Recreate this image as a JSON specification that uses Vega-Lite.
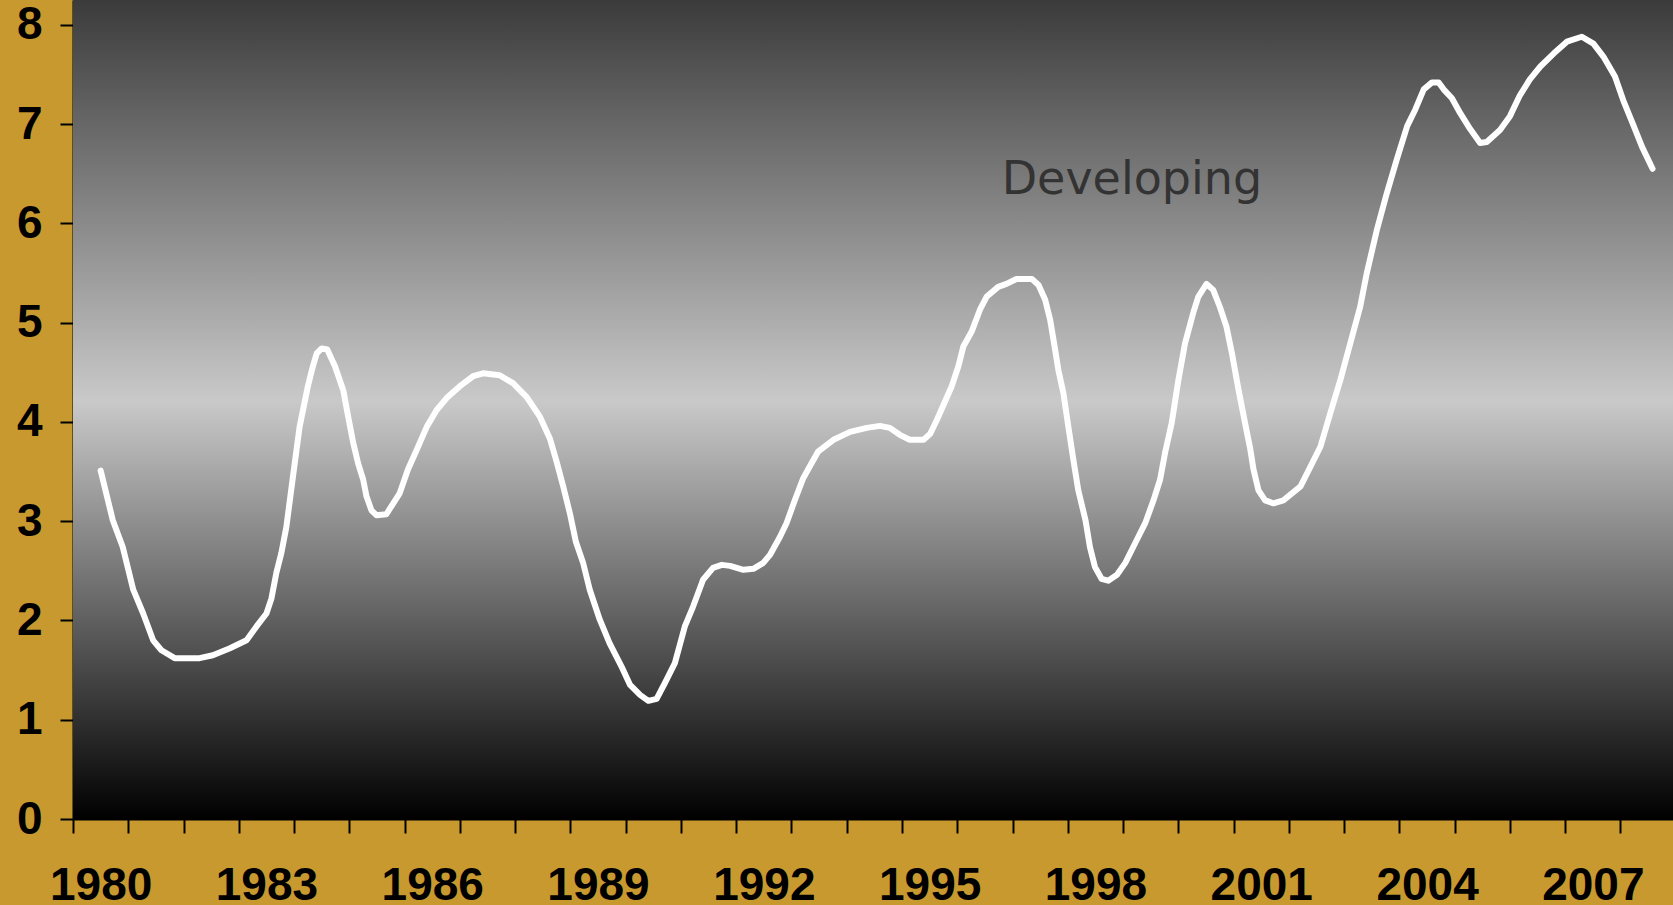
{
  "$schema": "https://vega.github.io/schema/vega-lite/v6.json",
  "width": 1600,
  "height": 819,
  "autosize": {"type": "none"},
  "padding": {"left": 73, "top": 0, "right": 0, "bottom": 86},
  "background": "#c8992f",
  "config": {"view": {"stroke": null}},
  "data": {"values": [
    {"year": 1980.50, "value": 3.51}, {"year": 1980.72, "value": 3.01}, {"year": 1980.90, "value": 2.74},
    {"year": 1981.09, "value": 2.31}, {"year": 1981.27, "value": 2.07}, {"year": 1981.45, "value": 1.80},
    {"year": 1981.60, "value": 1.70}, {"year": 1981.84, "value": 1.62}, {"year": 1982.29, "value": 1.62},
    {"year": 1982.53, "value": 1.65}, {"year": 1982.84, "value": 1.72}, {"year": 1983.14, "value": 1.80},
    {"year": 1983.32, "value": 1.94}, {"year": 1983.50, "value": 2.07}, {"year": 1983.59, "value": 2.22},
    {"year": 1983.68, "value": 2.48}, {"year": 1983.77, "value": 2.68}, {"year": 1983.86, "value": 2.94},
    {"year": 1983.98, "value": 3.45}, {"year": 1984.10, "value": 3.95}, {"year": 1984.25, "value": 4.36},
    {"year": 1984.34, "value": 4.56}, {"year": 1984.41, "value": 4.69}, {"year": 1984.50, "value": 4.74},
    {"year": 1984.60, "value": 4.73}, {"year": 1984.74, "value": 4.56}, {"year": 1984.89, "value": 4.32},
    {"year": 1984.98, "value": 4.05}, {"year": 1985.07, "value": 3.79}, {"year": 1985.16, "value": 3.58},
    {"year": 1985.25, "value": 3.42}, {"year": 1985.31, "value": 3.25}, {"year": 1985.40, "value": 3.11},
    {"year": 1985.49, "value": 3.06}, {"year": 1985.67, "value": 3.07}, {"year": 1985.76, "value": 3.15},
    {"year": 1985.91, "value": 3.28}, {"year": 1986.06, "value": 3.52}, {"year": 1986.22, "value": 3.72},
    {"year": 1986.40, "value": 3.95}, {"year": 1986.58, "value": 4.12}, {"year": 1986.76, "value": 4.24},
    {"year": 1987.00, "value": 4.36}, {"year": 1987.24, "value": 4.46}, {"year": 1987.42, "value": 4.49},
    {"year": 1987.72, "value": 4.47}, {"year": 1987.96, "value": 4.39}, {"year": 1988.21, "value": 4.25},
    {"year": 1988.45, "value": 4.05}, {"year": 1988.63, "value": 3.83}, {"year": 1988.75, "value": 3.60},
    {"year": 1988.87, "value": 3.35}, {"year": 1988.99, "value": 3.08}, {"year": 1989.10, "value": 2.79},
    {"year": 1989.23, "value": 2.58}, {"year": 1989.35, "value": 2.31}, {"year": 1989.53, "value": 2.01},
    {"year": 1989.71, "value": 1.77}, {"year": 1989.93, "value": 1.53}, {"year": 1990.08, "value": 1.35},
    {"year": 1990.26, "value": 1.25}, {"year": 1990.41, "value": 1.19}, {"year": 1990.56, "value": 1.21},
    {"year": 1990.71, "value": 1.37}, {"year": 1990.89, "value": 1.57}, {"year": 1991.07, "value": 1.94},
    {"year": 1991.22, "value": 2.14}, {"year": 1991.40, "value": 2.41}, {"year": 1991.58, "value": 2.53},
    {"year": 1991.74, "value": 2.56}, {"year": 1991.89, "value": 2.55}, {"year": 1992.13, "value": 2.51},
    {"year": 1992.31, "value": 2.52}, {"year": 1992.49, "value": 2.58}, {"year": 1992.61, "value": 2.66},
    {"year": 1992.79, "value": 2.84}, {"year": 1992.91, "value": 2.98}, {"year": 1993.06, "value": 3.21},
    {"year": 1993.21, "value": 3.43}, {"year": 1993.33, "value": 3.55}, {"year": 1993.48, "value": 3.70},
    {"year": 1993.76, "value": 3.82}, {"year": 1994.06, "value": 3.90}, {"year": 1994.36, "value": 3.94},
    {"year": 1994.60, "value": 3.96}, {"year": 1994.78, "value": 3.94}, {"year": 1994.96, "value": 3.87},
    {"year": 1995.14, "value": 3.82}, {"year": 1995.39, "value": 3.82}, {"year": 1995.51, "value": 3.88},
    {"year": 1995.63, "value": 4.02}, {"year": 1995.75, "value": 4.17}, {"year": 1995.90, "value": 4.36},
    {"year": 1996.02, "value": 4.56}, {"year": 1996.11, "value": 4.76}, {"year": 1996.26, "value": 4.91},
    {"year": 1996.41, "value": 5.13}, {"year": 1996.53, "value": 5.26}, {"year": 1996.74, "value": 5.36},
    {"year": 1996.89, "value": 5.39}, {"year": 1997.07, "value": 5.44}, {"year": 1997.35, "value": 5.44},
    {"year": 1997.47, "value": 5.38}, {"year": 1997.59, "value": 5.23}, {"year": 1997.68, "value": 5.03},
    {"year": 1997.74, "value": 4.83}, {"year": 1997.83, "value": 4.52}, {"year": 1997.92, "value": 4.29},
    {"year": 1998.01, "value": 3.95}, {"year": 1998.10, "value": 3.62}, {"year": 1998.19, "value": 3.31},
    {"year": 1998.32, "value": 3.01}, {"year": 1998.40, "value": 2.74}, {"year": 1998.49, "value": 2.54},
    {"year": 1998.61, "value": 2.42}, {"year": 1998.73, "value": 2.40}, {"year": 1998.89, "value": 2.46},
    {"year": 1999.04, "value": 2.58}, {"year": 1999.22, "value": 2.78}, {"year": 1999.40, "value": 2.98},
    {"year": 1999.55, "value": 3.21}, {"year": 1999.67, "value": 3.42}, {"year": 1999.76, "value": 3.69},
    {"year": 1999.88, "value": 3.99}, {"year": 2000.00, "value": 4.42}, {"year": 2000.12, "value": 4.79},
    {"year": 2000.27, "value": 5.10}, {"year": 2000.36, "value": 5.26}, {"year": 2000.51, "value": 5.39},
    {"year": 2000.63, "value": 5.33}, {"year": 2000.75, "value": 5.16}, {"year": 2000.87, "value": 4.96},
    {"year": 2000.97, "value": 4.69}, {"year": 2001.09, "value": 4.32}, {"year": 2001.21, "value": 3.98},
    {"year": 2001.30, "value": 3.73}, {"year": 2001.36, "value": 3.52}, {"year": 2001.45, "value": 3.31},
    {"year": 2001.57, "value": 3.21}, {"year": 2001.72, "value": 3.18}, {"year": 2001.90, "value": 3.21},
    {"year": 2002.21, "value": 3.35}, {"year": 2002.39, "value": 3.55}, {"year": 2002.57, "value": 3.75},
    {"year": 2002.75, "value": 4.09}, {"year": 2002.93, "value": 4.42}, {"year": 2003.11, "value": 4.79},
    {"year": 2003.29, "value": 5.16}, {"year": 2003.41, "value": 5.50}, {"year": 2003.59, "value": 5.93},
    {"year": 2003.77, "value": 6.30}, {"year": 2003.95, "value": 6.64}, {"year": 2004.14, "value": 6.98},
    {"year": 2004.29, "value": 7.15}, {"year": 2004.44, "value": 7.35}, {"year": 2004.59, "value": 7.42},
    {"year": 2004.71, "value": 7.42}, {"year": 2004.80, "value": 7.35}, {"year": 2004.95, "value": 7.26},
    {"year": 2005.10, "value": 7.11}, {"year": 2005.28, "value": 6.95}, {"year": 2005.46, "value": 6.81},
    {"year": 2005.58, "value": 6.82}, {"year": 2005.82, "value": 6.94}, {"year": 2006.00, "value": 7.08},
    {"year": 2006.18, "value": 7.29}, {"year": 2006.36, "value": 7.45}, {"year": 2006.55, "value": 7.58},
    {"year": 2006.79, "value": 7.71}, {"year": 2007.03, "value": 7.83}, {"year": 2007.30, "value": 7.88},
    {"year": 2007.51, "value": 7.81}, {"year": 2007.69, "value": 7.68}, {"year": 2007.90, "value": 7.48},
    {"year": 2008.05, "value": 7.24}, {"year": 2008.24, "value": 6.98}, {"year": 2008.39, "value": 6.77},
    {"year": 2008.58, "value": 6.55}
  ]},
  "layer": [
    {
      "data": {"values": [{}]},
      "mark": {
        "type": "rect",
        "fill": {
          "gradient": "linear", "x1": 0, "y1": 0, "x2": 0, "y2": 1,
          "stops": [
            {"offset": 0, "color": "#3b3b3b"},
            {"offset": 0.49, "color": "#c9c9c9"},
            {"offset": 1, "color": "#000000"}
          ]
        }
      },
      "encoding": {
        "x": {
          "datum": 1980, "type": "quantitative",
          "scale": {"domain": [1980, 2008.95], "nice": false, "zero": false},
          "axis": {
            "title": null, "grid": false,
            "values": [1980,1981,1982,1983,1984,1985,1986,1987,1988,1989,1990,1991,1992,1993,1994,1995,1996,1997,1998,1999,2000,2001,2002,2003,2004,2005,2006,2007,2008,1980.5,1983.5,1986.5,1989.5,1992.5,1995.5,1998.5,2001.5,2004.5,2007.5],
            "labelExpr": "datum.value % 1 == 0.5 ? toString(floor(datum.value)) : ''",
            "tickOpacity": {"condition": {"test": "datum.value % 1 == 0", "value": 1}, "value": 0},
            "domainColor": "black", "domainWidth": 2,
            "tickColor": "black", "tickWidth": 2, "tickSize": 14,
            "labelFont": "Liberation Sans", "labelFontWeight": "bold", "labelFontSize": 46,
            "labelColor": "black", "labelPadding": 30, "labelOverlap": false, "labelFlush": false,
            "labelBound": false
          }
        },
        "x2": {"datum": 2008.95},
        "y": {
          "datum": 0, "type": "quantitative",
          "scale": {"domain": [0, 8.25], "nice": false, "zero": false},
          "axis": {
            "title": null, "grid": false, "format": "d",
            "values": [0,1,2,3,4,5,6,7,8],
            "domainColor": "black", "domainWidth": 2,
            "tickColor": "black", "tickWidth": 2, "tickSize": 13,
            "labelFont": "Liberation Sans", "labelFontWeight": "bold", "labelFontSize": 46,
            "labelColor": "black", "labelPadding": 18, "labelOverlap": false, "labelBound": false
          }
        },
        "y2": {"datum": 8.25}
      }
    },
    {
      "mark": {"type": "line", "color": "white", "strokeWidth": 6, "strokeCap": "round", "strokeJoin": "round"},
      "encoding": {
        "x": {"field": "year", "type": "quantitative"},
        "y": {"field": "value", "type": "quantitative"}
      }
    },
    {
      "data": {"values": [{"label": "Developing"}]},
      "mark": {"type": "text", "font": "DejaVu Sans", "fontSize": 46, "color": "#333333", "align": "center", "baseline": "alphabetic"},
      "encoding": {
        "x": {"datum": 1999.16, "type": "quantitative"},
        "y": {"datum": 6.30, "type": "quantitative"},
        "text": {"field": "label"}
      }
    }
  ]
}
